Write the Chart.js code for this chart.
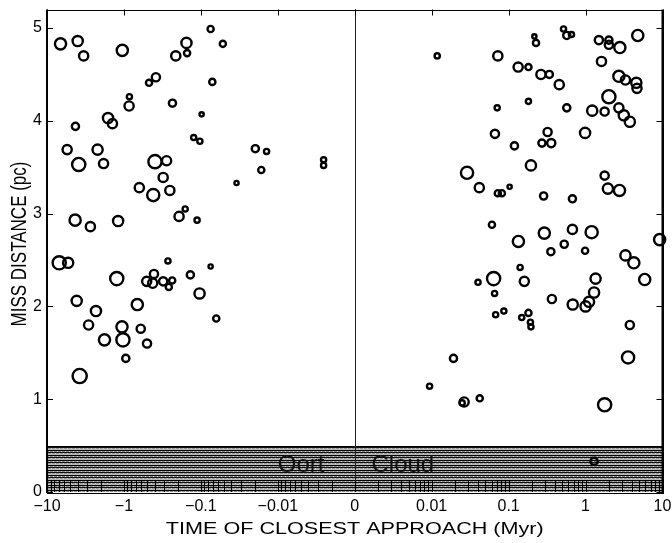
<!DOCTYPE html>
<html>
<head>
<meta charset="utf-8">
<script src="https://cdn.jsdelivr.net/npm/chart.js@4"></script>
<style>
  html, body { margin: 0; padding: 0; background: #fff; }
  #wrap { width: 672px; height: 543px; }
</style>
</head>
<body>
<div id="wrap"><canvas id="chart" width="672" height="543"></canvas></div>
<script>
// time of closest approach (Myr), negative = past encounters
const timeMyr = [
  -6.67, -3.99, -3.34, -1.05, -0.154, -0.212, -0.151, -0.472, -0.384, -0.849,
  -0.857, -0.234, -1.61, -1.41, -4.27, -5.47, -2.20, -3.87, -1.84, -0.395,
  -0.279, -0.309, -0.631, -0.416, -0.253, -0.124, -0.103, -0.0977, -0.0747, -0.0518,
  -0.0710, -0.0196, -0.0140, -0.0164, -0.0344, -0.00254, -0.00254, -4.31, -2.73, -1.19,
  -0.192, -0.160, -0.112, -0.0747, -0.137, -0.104, -0.0631, -6.94, -5.31, -1.24,
  -0.407, -0.506, -0.423, -0.309, -0.261, -0.236, -0.268, -4.11, -2.31, -0.670,
  -2.88, -1.06, -1.79, -1.03, -0.605, -0.501, -0.946, -3.76,
  0.0118, 0.0724, 0.133, 0.181, 0.0710, 0.0664, 0.119, 0.0288, 0.0416, 0.0724,
  0.0817, 0.103, 0.216, 0.227, 0.517, 0.570, 0.656, 1.49, 2.01, 2.01,
  2.79, 4.77, 1.61, 0.263, 0.338, 0.455, 2.71, 3.30, 4.57, 4.66,
  2.01, 0.181, 0.570, 1.22, 1.77, 2.71, 3.14, 3.76, 0.321, 0.271,
  0.358, 0.986, 0.195, 1.77, 1.95, 2.76, 0.285, 0.675, 0.0607, 0.134,
  0.0400, 0.0638, 0.0657, 0.0678, 0.0867, 0.0192, 0.00939, 0.0264, 0.0249, 0.0421,
  0.291, 0.675, 1.20, 9.18, 0.354, 0.528, 0.986, 3.30, 4.24, 5.87,
  0.141, 0.160, 1.35, 1.29, 1.11, 1.00, 0.681, 0.365, 0.181, 0.148,
  0.192, 0.195, 3.76, 3.57, 1.77, 1.29
];
// miss distance (pc)
const missPc = [
  4.83, 4.86, 4.70, 4.76, 4.84, 4.70, 4.73, 4.41, 4.47, 4.26,
  4.16, 4.19, 4.03, 3.97, 3.94, 3.69, 3.69, 3.53, 3.54, 3.56,
  3.57, 3.39, 3.28, 3.20, 3.25, 3.82, 3.78, 4.07, 4.99, 4.83,
  4.42, 3.70, 3.67, 3.47, 3.33, 3.58, 3.52, 2.93, 2.86, 2.92,
  2.97, 3.05, 2.93, 2.43, 2.34, 2.14, 1.87, 2.47, 2.47, 2.30,
  2.35, 2.27, 2.25, 2.27, 2.21, 2.28, 2.49, 2.06, 1.95, 2.02,
  1.80, 1.78, 1.64, 1.64, 1.76, 1.60, 1.44, 1.25,
  4.70, 4.70, 4.58, 4.58, 4.14, 3.86, 3.73, 3.44, 3.28, 3.22,
  3.22, 3.29, 4.91, 4.84, 4.99, 4.92, 4.93, 4.87, 4.87, 4.82,
  4.79, 4.92, 4.64, 4.50, 4.50, 4.39, 4.48, 4.44, 4.41, 4.35,
  4.26, 4.21, 4.14, 4.11, 4.10, 4.14, 4.06, 3.99, 3.88, 3.76,
  3.76, 3.87, 3.52, 3.41, 3.27, 3.25, 3.19, 3.16, 2.88, 2.70,
  2.26, 2.30, 2.14, 1.91, 1.95, 1.44, 1.14, 0.97, 0.96, 1.01,
  2.79, 2.83, 2.80, 2.72, 2.59, 2.67, 2.60, 2.55, 2.47, 2.29,
  2.42, 2.27, 2.30, 2.15, 2.05, 2.00, 2.02, 2.08, 1.93, 1.88,
  1.83, 1.78, 1.80, 1.45, 0.94, 0.33
];
// marker radius per star
const markerR = [
  5, 4.5, 4, 5, 4.5, 4, 2.5, 2.5, 3.5, 2,
  4, 3, 4.5, 4, 3, 4, 4.5, 6, 4, 6,
  4, 4, 4, 5.5, 4, 2, 2, 1.5, 2.5, 2.5,
  2.5, 3, 2, 2.5, 1.5, 2, 2, 5, 4, 4.5,
  4, 2, 2, 1.5, 3, 4.5, 2.5, 6, 4.5, 6,
  3.5, 4, 4, 3.5, 2.5, 2.5, 2, 4.5, 4.5, 5,
  4, 5, 5, 6, 3.5, 3.5, 3, 6.5,
  2, 4, 4, 2.5, 2, 3.5, 3, 5.5, 4, 2.5,
  2.5, 1.5, 1.5, 2.5, 2, 3, 2, 3.5, 3, 3.5,
  5, 5, 4, 4, 3, 4, 5, 4, 4.5, 4,
  6, 2, 3, 4.5, 3.5, 4, 4.5, 4.5, 3.5, 3,
  3.5, 4.5, 4.5, 3.5, 4.5, 5, 3, 3, 2.5, 5,
  2, 6, 2, 2, 2, 3, 2, 4, 2, 2.5,
  5, 4, 5.5, 5, 3, 3, 2.5, 4.5, 5, 5,
  2, 4, 4.5, 4.5, 4.5, 4.5, 4.5, 3.5, 2.5, 2,
  2, 2, 3.5, 5.5, 6, 3
];

const xTickLabels = ['\u221210', '\u22121', '\u22120.1', '\u22120.01', '0', '0.01', '0.1', '1', '10'];
const yTickValues = [0, 1, 2, 3, 4, 5];
const oortCloudPc = [0, 0.5];
const decades = [0.001, 0.01, 0.1, 1];
const xTitle = 'TIME OF CLOSEST APPROACH (Myr)';
const yTitle = 'MISS DISTANCE (pc)';

// symmetric log axis: |t| = log10(|x| / 0.001)
const LIN = 0.001;
function symlog(v) {
  const a = Math.abs(v);
  if (a <= LIN) return 0;
  return Math.sign(v) * Math.log10(a / LIN);
}

const points = timeMyr.map((t, i) => ({ x: symlog(t), y: missPc[i], r: markerR[i] + 0.6 }));

const rugValues = [];
decades.forEach(d => {
  for (let m = 1; m <= 9; m++) {
    rugValues.push(m * d, -m * d);
  }
});
rugValues.push(10, -10);

const FONT = '"Liberation Sans", Arial, Helvetica, sans-serif';
Chart.defaults.font.family = FONT;
Chart.defaults.font.size = 16;
Chart.defaults.color = '#000';

function bandPattern(ctx) {
  const c = document.createElement('canvas');
  c.width = 4; c.height = 5;
  const g = c.getContext('2d');
  const rows = ['#000', '#8a8a8a', '#111', '#999', '#b8b8b8'];
  rows.forEach((col, i) => { g.fillStyle = col; g.fillRect(0, i, 4, 1); });
  g.fillStyle = '#cfcfcf';
  g.fillRect(1, 1, 1, 1);
  g.fillRect(3, 3, 1, 1);
  return ctx.createPattern(c, 'repeat');
}

const decorPlugin = {
  id: 'decor',
  beforeDatasetsDraw(chart) {
    const { ctx, chartArea: a, scales: { x, y } } = chart;
    const yTop = Math.round(y.getPixelForValue(oortCloudPc[1]));
    const yBot = Math.round(y.getPixelForValue(oortCloudPc[0]));
    const x0 = Math.round(x.getPixelForValue(0)) + 0.5;
    ctx.save();
    ctx.fillStyle = bandPattern(ctx);
    ctx.fillRect(a.left, yTop, a.right - a.left, yBot - yTop);
    ctx.strokeStyle = '#000';
    ctx.lineWidth = 1;
    ctx.beginPath();
    ctx.moveTo(a.left, yTop + 0.5);
    ctx.lineTo(a.right, yTop + 0.5);
    ctx.stroke();

    ctx.font = '24px ' + FONT;
    ctx.fillStyle = '#111';
    ctx.textBaseline = 'middle';
    ctx.textAlign = 'right';
    ctx.fillText('Oort', x0 - 31, yTop + 19);
    ctx.textAlign = 'left';
    ctx.fillText('Cloud', x0 + 16, yTop + 19);

    // zero line
    ctx.strokeStyle = '#222';
    ctx.beginPath();
    ctx.moveTo(x0, a.top);
    ctx.lineTo(x0, a.bottom);
    ctx.stroke();
    ctx.restore();
  },
  afterDatasetsDraw(chart) {
    const { ctx, chartArea: a, scales: { x, y } } = chart;
    ctx.save();
    ctx.strokeStyle = '#000';
    ctx.lineWidth = 1;
    // bottom minor ticks
    ctx.beginPath();
    rugValues.forEach(v => {
      const px = Math.round(x.getPixelForValue(symlog(v))) + 0.5;
      ctx.moveTo(px, a.bottom);
      ctx.lineTo(px, a.bottom - 11);
    });
    // top major ticks
    xTickLabels.forEach((_, i) => {
      const px = Math.round(x.getPixelForValue(i - 4)) + 0.5;
      ctx.moveTo(px, a.top);
      ctx.lineTo(px, a.top + 6);
    });
    // left / right ticks
    yTickValues.forEach(v => {
      const py = Math.round(y.getPixelForValue(v)) + 0.5;
      ctx.moveTo(a.left, py);
      ctx.lineTo(a.left + 6, py);
      ctx.moveTo(a.right, py);
      ctx.lineTo(a.right - 6, py);
    });
    ctx.stroke();
    // frame
    ctx.strokeRect(Math.round(a.left) + 0.5, Math.round(a.top) + 0.5,
      Math.round(a.right - a.left), Math.round(a.bottom - a.top));
    ctx.lineWidth = 2;
    ctx.beginPath();
    ctx.moveTo(a.left, a.top);
    ctx.lineTo(a.left, a.bottom + 1);
    ctx.moveTo(a.right, a.top);
    ctx.lineTo(a.right, a.bottom + 1);
    ctx.stroke();

    // axis titles (the original figure is stretched horizontally)
    ctx.fillStyle = '#000';
    ctx.font = '17px ' + FONT;
    ctx.textAlign = 'center';
    ctx.textBaseline = 'alphabetic';
    ctx.save();
    ctx.translate((a.left + a.right) / 2, 533.5);
    ctx.scale(1.27, 1);
    ctx.fillText(xTitle, 0, 0);
    ctx.restore();
    ctx.save();
    ctx.translate(26, 244);
    ctx.rotate(-Math.PI / 2);
    ctx.scale(1, 1.27);
    ctx.fillText(yTitle, 0, 0);
    ctx.restore();
    ctx.restore();
  }
};

new Chart(document.getElementById('chart'), {
  type: 'bubble',
  data: {
    datasets: [{
      data: points,
      backgroundColor: 'rgba(0,0,0,0)',
      borderColor: '#000',
      borderWidth: 2.4,
      clip: false
    }]
  },
  options: {
    responsive: false,
    animation: false,
    events: [],
    layout: { padding: { top: 5, right: 7, left: 0, bottom: 0 } },
    plugins: { legend: { display: false }, tooltip: { enabled: false } },
    scales: {
      x: {
        type: 'linear',
        min: -4,
        max: 4,
        grid: { display: false, drawTicks: false },
        border: { display: false },
        afterBuildTicks: s => { s.ticks = xTickLabels.map((_, i) => ({ value: i - 4 })); },
        ticks: {
          callback: (v, i) => xTickLabels[i],
          padding: 5,
          maxRotation: 0,
          autoSkip: false
        },
        afterFit: s => { s.height = 51; s.paddingLeft = 0; s.paddingRight = 0; }
      },
      y: {
        type: 'linear',
        min: 0,
        max: 5.2,
        grid: { display: false, drawTicks: false },
        border: { display: false },
        afterBuildTicks: s => { s.ticks = yTickValues.map(v => ({ value: v })); },
        ticks: { padding: 5 },
        afterFit: s => { s.width = 47; s.paddingTop = 0; s.paddingBottom = 0; }
      }
    }
  },
  plugins: [decorPlugin]
});
</script>
</body>
</html>
